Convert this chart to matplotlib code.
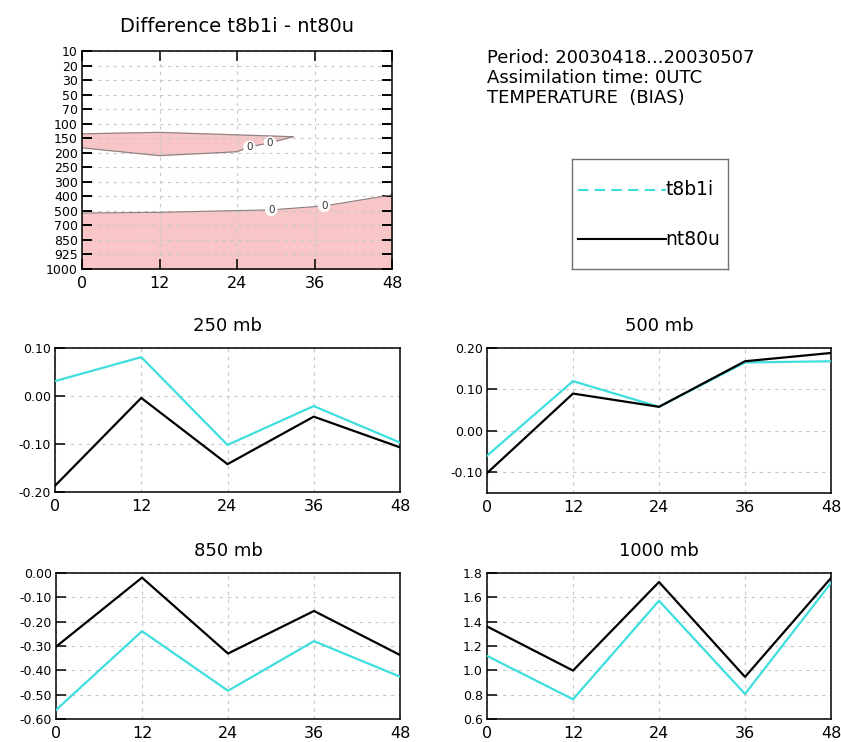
import numpy as np
import matplotlib
matplotlib.use("Agg")
import matplotlib.pyplot as plt

plt.rcParams["font.family"] = "DejaVu Sans"

# ── Data ─────────────────────────────────────────────────────────────────────
hours = [0, 12, 24, 36, 48]
levels = ["10", "20", "30", "50", "70", "100", "150", "200", "250",
          "300", "400", "500", "700", "850", "925", "1000"]

# zero line of the difference field, in level-index units (0 = 10 hPa)
upper_top_x = [0, 12, 32.7]
upper_top_lev = [5.7, 5.6, 5.9]
upper_bot_x = [0, 12, 24, 25.9, 29.1, 32.7]
upper_bot_lev = [6.66, 7.2, 6.93, 6.6, 6.31, 5.9]
lower_top_x = [0, 12, 24, 29.3, 37.5, 48]
lower_top_lev = [11.15, 11.1, 10.98, 10.93, 10.66, 9.9]
zero_label_x = [25.9, 29.1, 29.3, 37.5]
zero_label_lev = [6.6, 6.31, 10.93, 10.66]

t8b1i_250 = [0.031, 0.081, -0.102, -0.021, -0.097]
nt80u_250 = [-0.187, -0.004, -0.142, -0.043, -0.107]
t8b1i_500 = [-0.060, 0.120, 0.058, 0.165, 0.168]
nt80u_500 = [-0.102, 0.090, 0.058, 0.168, 0.188]
t8b1i_850 = [-0.563, -0.239, -0.484, -0.280, -0.426]
nt80u_850 = [-0.303, -0.019, -0.331, -0.156, -0.337]
t8b1i_1000 = [1.119, 0.762, 1.572, 0.806, 1.718]
nt80u_1000 = [1.361, 0.998, 1.726, 0.946, 1.759]

CYAN = "#3fdede"
PINK = "#f8c6c6"
GRID = dict(color="#c8c8c8", linestyle=(0, (3, 4)), linewidth=0.8)

W, H = 841, 742
fig = plt.figure(figsize=(W / 100, H / 100), dpi=100)


def px_axes(left, top, right, bottom):
    return fig.add_axes([left / W, 1 - bottom / H, (right - left) / W, (bottom - top) / H])


def style(ax):
    for s in ax.spines.values():
        s.set_linewidth(1.1)
    ax.tick_params(axis="both", direction="in", length=7, width=1.1)
    ax.tick_params(axis="x", labelsize=11.5, pad=5, length=0)
    ax.tick_params(axis="y", labelsize=9)


# ── Cross-section of the difference ─────────────────────────────────────────
ax = px_axes(82, 51, 392, 269)
style(ax)
ux = np.concatenate([upper_top_x, upper_bot_x[::-1]])
uy = np.concatenate([upper_top_lev, upper_bot_lev[::-1]])
ax.fill(ux, uy, color=PINK, zorder=1)
ax.plot(upper_top_x, upper_top_lev, color="#8a8080", lw=0.8, zorder=2)
ax.plot(upper_bot_x, upper_bot_lev, color="#8a8080", lw=0.8, zorder=2)
ax.fill_between(lower_top_x, lower_top_lev, len(levels) - 1, color=PINK, zorder=1)
ax.plot(lower_top_x, lower_top_lev, color="#8a8080", lw=0.8, zorder=2)
for x, y in zip(zero_label_x, zero_label_lev):
    ax.text(x, y, "0", fontsize=7.5, ha="center", va="center", zorder=4,
            color="#333333",
            bbox=dict(boxstyle="circle,pad=0.12", fc="white", ec="none"))
ax.set_xlim(0, 48)
ax.set_ylim(len(levels) - 1, 0)
ax.set_xticks(hours)
ax.set_yticks(range(len(levels)))
ax.set_yticklabels(levels)
ax.tick_params(axis="y", left=True, right=True, pad=3, width=1.4)
ax.tick_params(axis="x", top=True, length=7, direction="in")
ax.grid(True, **GRID)
for gl in ax.get_xgridlines() + ax.get_ygridlines():
    gl.set_zorder(1.5)
ax.set_title("Difference t8b1i - nt80u", fontsize=14, pad=14)

# ── Header text ──────────────────────────────────────────────────────────────
for i, line in enumerate(["Period: 20030418...20030507",
                          "Assimilation time: 0UTC",
                          "TEMPERATURE  (BIAS)"]):
    fig.text(487 / W, 1 - (58 + 20 * i) / H, line, fontsize=13, va="center", ha="left")

# ── Legend box ───────────────────────────────────────────────────────────────
lg = px_axes(572, 159, 728, 269)
lg.set_xticks([])
lg.set_yticks([])
for s in lg.spines.values():
    s.set_color("#707070")
    s.set_linewidth(1.0)
lg.set_xlim(0, 1)
lg.set_ylim(0, 1)
lg.plot([0.04, 0.6], [0.72, 0.72], color=CYAN, lw=1.5, ls=(0, (5, 3)))
lg.text(0.6, 0.72, "t8b1i", fontsize=13.5, va="center", ha="left")
lg.plot([0.04, 0.6], [0.27, 0.27], color="black", lw=1.5)
lg.text(0.6, 0.27, "nt80u", fontsize=13.5, va="center", ha="left")

# ── Time series at single levels ─────────────────────────────────────────────
panels = [
    ("250 mb", (55, 348, 400, 492), t8b1i_250, nt80u_250, (-0.20, 0.10),
     [-0.20, -0.10, 0.00, 0.10], "{:.2f}"),
    ("500 mb", (487, 348, 831, 493), t8b1i_500, nt80u_500, (-0.15, 0.20),
     [-0.10, 0.00, 0.10, 0.20], "{:.2f}"),
    ("850 mb", (56, 573, 400, 719), t8b1i_850, nt80u_850, (-0.60, 0.00),
     [-0.60, -0.50, -0.40, -0.30, -0.20, -0.10, 0.00], "{:.2f}"),
    ("1000 mb", (487, 573, 831, 719), t8b1i_1000, nt80u_1000, (0.6, 1.8),
     [0.6, 0.8, 1.0, 1.2, 1.4, 1.6, 1.8], "{:.1f}"),
]

for title, (l, t, r, b), cyan_vals, black_vals, ylim, yticks, fmt in panels:
    ax = px_axes(l, t, r, b)
    style(ax)
    ax.plot(hours, cyan_vals, color=CYAN, lw=1.6, zorder=3)
    ax.plot(hours, black_vals, color="black", lw=1.6, zorder=4)
    ax.set_xlim(0, 48)
    ax.set_ylim(*ylim)
    ax.set_xticks(hours)
    ax.set_yticks(yticks)
    ax.set_yticklabels([fmt.format(v) for v in yticks])
    ax.tick_params(axis="y", pad=3)
    ax.grid(True, **GRID)
    for gl in ax.get_xgridlines() + ax.get_ygridlines():
        gl.set_zorder(1.5)
    ax.set_title(title, fontsize=13, pad=12)

fig.savefig("out.png", dpi=100)
